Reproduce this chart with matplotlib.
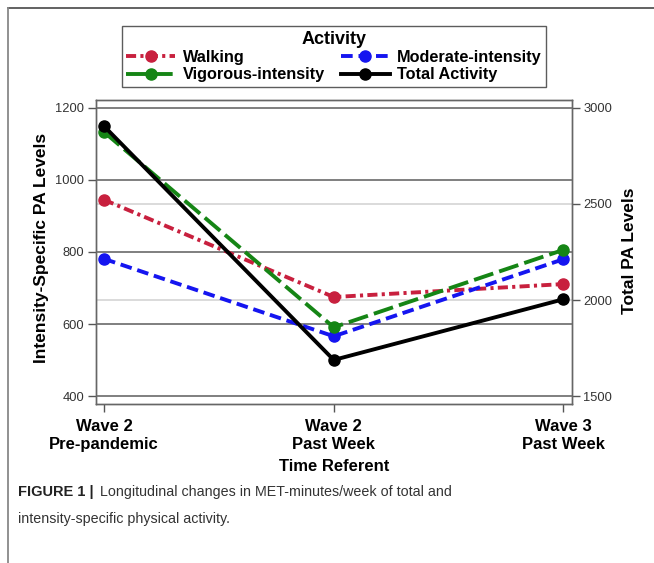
import matplotlib.pyplot as plt
from matplotlib.lines import Line2D

plt.rcParams['font.family'] = ['Liberation Sans', 'DejaVu Sans']

# data
time_labels = ['Wave 2\nPre-pandemic', 'Wave 2\nPast Week', 'Wave 3\nPast Week']
walking = [945, 675, 711]
moderate = [781, 566, 780]
vigorous = [1133, 591, 806]
total = [2905, 1688, 2004]

left_ticks = [400, 600, 800, 1000, 1200]
right_ticks = [1500, 2000, 2500, 3000]

W, H = 654, 563
fig = plt.figure(figsize=(W / 100, H / 100), dpi=100, facecolor='white')
ax = fig.add_axes([96 / W, 1 - 404 / H, 475.5 / W, 304 / H])
ax2 = ax.twinx()

x = list(range(len(time_labels)))
lo, hi = 378, 1222
lo2, hi2 = 1458.75, 3041.25
ax.set_xlim(-0.035, 2.035)
ax.set_ylim(lo, hi)
ax2.set_ylim(lo2, hi2)

# grid lines: dark for left axis, light for right axis
for v in left_ticks:
    ax.axhline(v, color='#7f7f7f', lw=1.4, zorder=1)
for v in [2000, 2500]:
    ax2.axhline(v, color='#d4d4d4', lw=1.2, zorder=0)
ax.set_zorder(ax2.get_zorder() + 1)
ax.patch.set_visible(False)

lw = 2.8
ms = 8
l_walk, = ax.plot(x, walking, color='#c8203e', lw=lw, marker='o', ms=ms,
                  dashes=(2.6, 1.1, 0.8, 1.1), label='Walking', zorder=3)
l_mod, = ax.plot(x, moderate, color='#1515f0', lw=lw, marker='o', ms=ms,
                 dashes=(3.0, 1.5), label='Moderate-intensity', zorder=3)
l_vig, = ax.plot(x, vigorous, color='#158515', lw=lw, marker='o', ms=ms,
                 dashes=(5.2, 1.6), label='Vigorous-intensity', zorder=3)
# total belongs to the right axis; mapped onto the left scale so it draws on top
tot_left = [lo + (t - lo2) * (hi - lo) / (hi2 - lo2) for t in total]
l_tot, = ax.plot(x, tot_left, color='black', lw=lw, marker='o', ms=ms,
                 label='Total Activity', zorder=4)

ax.set_xticks(x)
ax.set_yticks(left_ticks)
ax2.set_yticks(right_ticks)
for a in (ax, ax2):
    a.tick_params(axis='both', colors='#555555', labelcolor='#333333',
                  labelsize=9.3, length=6, width=1, pad=2.5)
    for s in a.spines.values():
        s.set_color('#666666')
        s.set_linewidth(1)
ax.tick_params(axis='x', labelcolor='black', labelsize=12, pad=5)
ax.set_xticklabels(time_labels, fontweight='bold', fontsize=12)

ax.set_xlabel('Time Referent', fontweight='bold', fontsize=12, labelpad=5)
ax.set_ylabel('Intensity-Specific PA Levels', fontweight='bold', fontsize=12.5)
ax2.set_ylabel('Total PA Levels', fontweight='bold', fontsize=12.5)
ax.yaxis.set_label_coords(-0.099, 0.513)
ax2.yaxis.set_label_coords(1.106, 0.503)

handles = [l_walk, l_vig, l_mod, l_tot]
leg = fig.legend(handles=handles, labels=[h.get_label() for h in handles],
                 ncol=2, loc='center', bbox_to_anchor=(334 / W, 1 - 56.5 / H),
                 title='Activity', title_fontproperties={'weight': 'bold', 'size': 13},
                 prop={'weight': 'bold', 'size': 11.7}, frameon=True, fancybox=False,
                 edgecolor='#333333', handlelength=3.0, columnspacing=1.0,
                 borderpad=0.3, labelspacing=0.15, handletextpad=0.45)
leg.get_frame().set_linewidth(1)

# outer figure border (top and left)
fig.add_artist(Line2D([7.5 / W, 1], [1 - 8 / H, 1 - 8 / H], color='#555555', lw=1.3))
fig.add_artist(Line2D([7.5 / W, 7.5 / W], [0, 1 - 8 / H], color='#888888', lw=1.3))

# caption
fig.text(18 / W, 1 - 496 / H, 'FIGURE 1 |', fontweight='bold', fontsize=10.5,
         color='#222222')
fig.text(100 / W, 1 - 496 / H, 'Longitudinal changes in MET-minutes/week of total and',
         fontsize=10.3, color='#333333')
fig.text(18 / W, 1 - 523 / H, 'intensity-specific physical activity.',
         fontsize=10.3, color='#333333')

fig.savefig('out.png', dpi=100, facecolor='white')
